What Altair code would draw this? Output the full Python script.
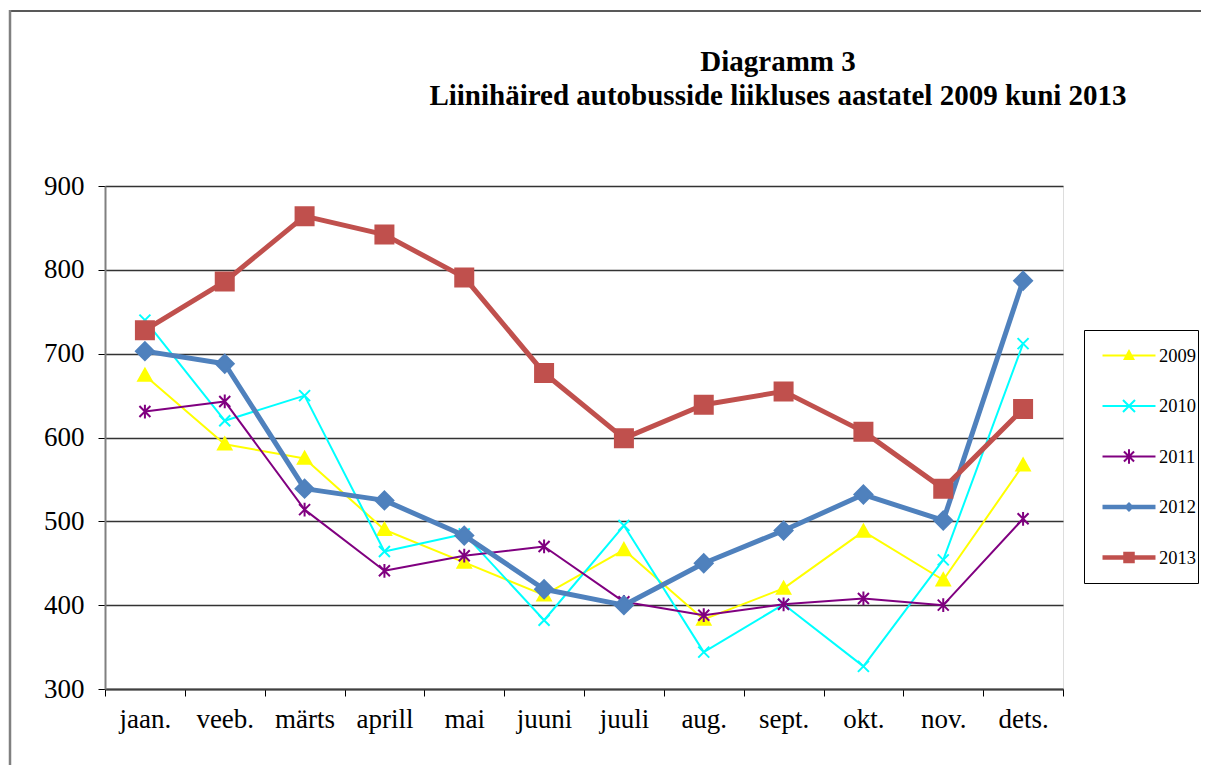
import altair as alt
import pandas as pd

months = ["jaan.", "veeb.", "märts", "aprill", "mai", "juuni", "juuli", "aug.", "sept.", "okt.", "nov.", "dets."]
years = ["2009", "2010", "2011", "2012", "2013"]
v2009 = [674, 592, 575, 490, 451, 412, 466, 383, 420, 488, 430, 567]
v2010 = [740, 620, 650, 464, 485, 382, 495, 344, 401, 327, 454, 712]
v2011 = [631, 643, 514, 441, 459, 470, 404, 388, 401, 408, 400, 503]
v2012 = [703, 688, 539, 525, 483, 419, 400, 450, 489, 532, 501, 787]
v2013 = [728, 786, 864, 842, 791, 677, 599, 639, 655, 607, 539, 634]
series = [v2009, v2010, v2011, v2012, v2013]

colors = ["#FFFF00", "#00FFFF", "#800080", "#4F81BD", "#C0504D"]
line_widths = [2, 2, 2, 5, 5]
marker_paths = [
    "M0,-1L1,0.8L-1,0.8Z",
    "M-1,-1L1,1M-1,1L1,-1",
    "M-1,-1L1,1M-1,1L1,-1M0,-1.25L0,1.25",
    "M0,-1L1,0L0,1L-1,0Z",
    "M-1,-1L1,-1L1,1L-1,1Z",
]
marker_sizes = [180, 121, 121, 324, 324]


# ---- legend glyphs (line + marker), all drawn as filled polygons ----
def poly(pts):
    area = sum(pts[i][0] * pts[(i + 1) % len(pts)][1] - pts[(i + 1) % len(pts)][0] * pts[i][1]
               for i in range(len(pts)))
    if area < 0:
        pts = pts[::-1]
    return "M" + "L".join(f"{x:.3f},{y:.3f}" for x, y in pts) + "Z"


def seg(x1, y1, x2, y2, hw):
    dx, dy = x2 - x1, y2 - y1
    ln = (dx * dx + dy * dy) ** 0.5
    px, py = -dy / ln * hw, dx / ln * hw
    return poly([(x1 + px, y1 + py), (x2 + px, y2 + py), (x2 - px, y2 - py), (x1 - px, y1 - py)])


L = 1.104
thin, thick, arm = 0.042, 0.094, 0.042
glyph_markers = [
    poly([(0, -0.27), (0.25, 0.19), (-0.25, 0.19)]),
    seg(-0.25, -0.25, 0.25, 0.25, arm) + seg(-0.25, 0.25, 0.25, -0.25, arm),
    seg(-0.21, -0.21, 0.21, 0.21, arm) + seg(-0.21, 0.21, 0.21, -0.21, arm) + seg(0, -0.3, 0, 0.3, arm),
    poly([(0, -0.21), (0.21, 0), (0, 0.21), (-0.21, 0)]),
    poly([(-0.24, -0.24), (0.24, -0.24), (0.24, 0.24), (-0.24, 0.24)]),
]
glyph_lines = [seg(-L, 0, L, 0, thin)] * 3 + [seg(-L, 0, L, 0, thick)] * 2
legend_paths = [a + b for a, b in zip(glyph_lines, glyph_markers)]

rows = []
for yr, vals in zip(years, series):
    for m, v in zip(months, vals):
        rows.append({"month": m, "year": yr, "value": v})
df = pd.DataFrame(rows)

FONT = "Liberation Serif"

shape_expr = "".join(f"datum.value === '{y}' ? '{p}' : " for y, p in zip(years, legend_paths)) + "'circle'"

legend = alt.Legend(
    title=None, orient="none", legendX=979, legendY=144,
    padding=2, symbolOffset=19, labelOffset=6, rowPadding=3.5, clipHeight=47,
    symbolSize=2304, labelFont=FONT, labelFontSize=18.5, labelColor="black",
    strokeColor="black", fillColor="white",
    symbolType=alt.ExprRef(expr=shape_expr),
    symbolStrokeWidth=0,
    symbolFillColor=alt.ExprRef(expr="scale('color', datum.value)"),
    symbolOpacity=1,
)

x_enc = alt.X(
    "month:N", sort=months, title=None,
    scale=alt.Scale(type="band", paddingInner=0, paddingOuter=0),
    axis=alt.Axis(labelAngle=0, tickBand="extent", ticks=True, tickSize=7, tickColor="black",
                  domainColor="#404040", domainWidth=2, labelFont=FONT, labelFontSize=27,
                  labelColor="black", labelPadding=10, grid=False),
)
y_enc = alt.Y(
    "value:Q", title=None,
    scale=alt.Scale(domain=[300, 900], nice=False, zero=False),
    axis=alt.Axis(values=[300, 400, 500, 600, 700, 800, 900], tickSize=7, tickColor="black",
                  domainColor="#808080", domainWidth=2, labelFont=FONT, labelFontSize=27,
                  labelColor="black", labelPadding=14, grid=True, gridColor="#333333",
                  gridWidth=1.3),
)
color_enc = alt.Color("year:N", scale=alt.Scale(domain=years, range=colors), legend=legend)

base = alt.Chart(df)
layers = []
for i, yr in enumerate(years):
    sub = base.transform_filter(alt.datum.year == yr)
    ln = sub.mark_line(strokeWidth=line_widths[i], strokeJoin="round", strokeCap="round").encode(
        x=x_enc, y=y_enc, color=color_enc)
    pt = sub.mark_point(shape=marker_paths[i], size=marker_sizes[i], fill=colors[i],
                        stroke=colors[i], strokeWidth=2, opacity=1, fillOpacity=1).encode(
        x=x_enc, y=y_enc)
    layers += [ln, pt]

frame = alt.Chart(alt.Data(values=[{}]))
top_rule = frame.mark_rule(color="#222222", strokeWidth=1.5).encode(
    x=alt.value(-96), x2=alt.value(1300), y=alt.value(-175))
left_rule = frame.mark_rule(color="#808080", strokeWidth=2.5).encode(
    x=alt.value(-95), y=alt.value(-176), y2=alt.value(700))

chart = alt.layer(top_rule, left_rule, *layers).properties(
    width=958, height=503,
    padding={"left": 97, "top": 178, "right": 138, "bottom": 76},
    autosize=alt.AutoSizeParams(type="none"),
    title=alt.Title(
        text=["Diagramm 3", "Liinihäired autobusside liikluses aastatel 2009 kuni 2013"],
        font=FONT, fontSize=29, fontWeight="bold", color="black", anchor="middle",
        dx=194, offset=0, dy=102, lineHeight=34,
    ),
).configure_view(fill="#C0C0C0", stroke="#808080", strokeWidth=2).configure(background="white")

chart.save("out.html", embed_options={"renderer": "svg", "actions": False})
